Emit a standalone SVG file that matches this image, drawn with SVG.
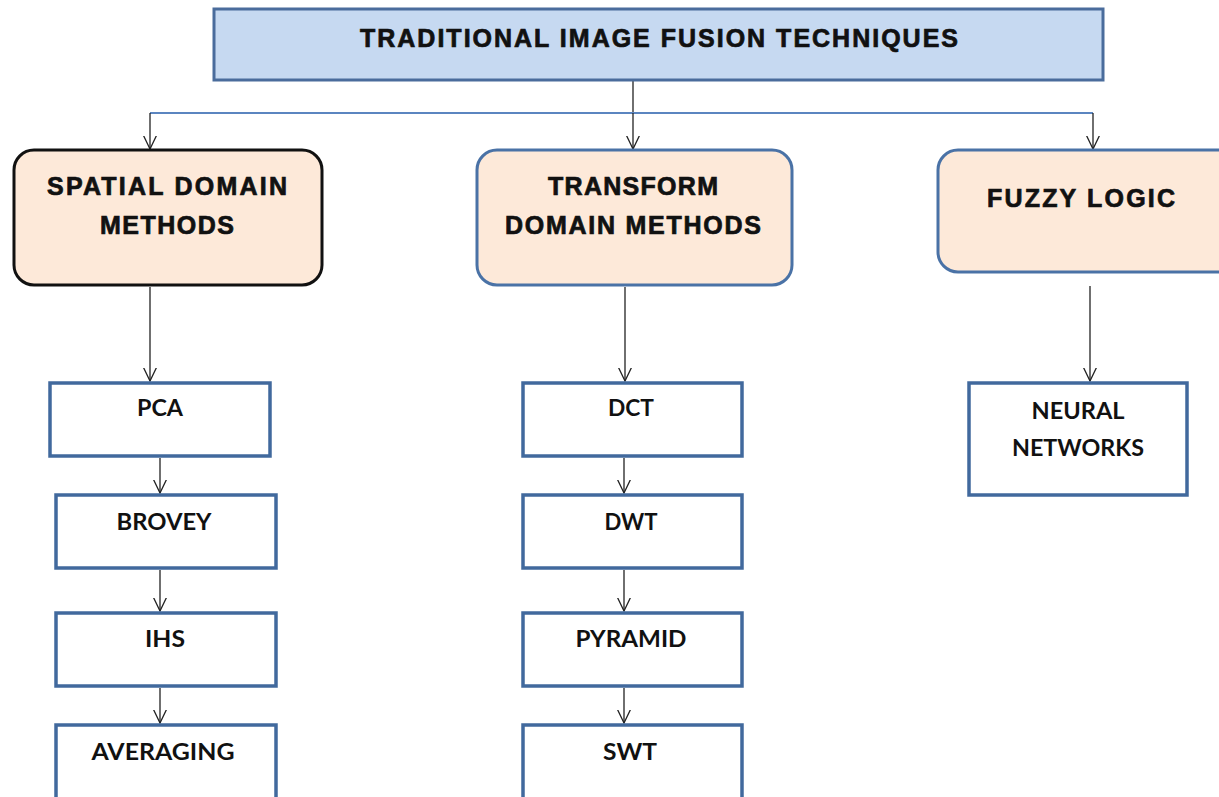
<svg xmlns="http://www.w3.org/2000/svg" width="1219" height="797" viewBox="0 0 1219 797">
<defs>
<style>
.title{fill:#c6d9f1;stroke:#4a6c9c;stroke-width:3}
.main{fill:#fde9d9;stroke:#4a72a6;stroke-width:3}
.mainb{fill:#fde9d9;stroke:#111;stroke-width:3}
.box{fill:#fff;stroke:#41699d;stroke-width:3.5}
.h{font-family:"Liberation Sans",Arial,sans-serif;font-weight:bold;fill:#111;stroke:#111;stroke-width:0.7;text-anchor:middle}
.s{font-family:Lato,"Open Sans",sans-serif;font-weight:bold;fill:#111;text-anchor:middle;font-size:22px}
.c{stroke:#222;stroke-width:1.3;fill:none}
.cb{stroke:#5b85c0;stroke-width:2;fill:none}
</style>
<marker id="ah" viewBox="0 0 14 14" refX="13.5" refY="7" markerWidth="14" markerHeight="14" markerUnits="userSpaceOnUse" orient="auto">
<path d="M0,0.5 L13.5,7 L0,13.5" fill="none" stroke="#222" stroke-width="1.3"/>
</marker>
</defs>
<rect width="1219" height="797" fill="#fff"/>

<g id="connectors">
<line class="c" x1="633" y1="80" x2="633" y2="113"/>
<line class="cb" x1="150" y1="113" x2="1093" y2="113"/>
<line class="c" x1="150" y1="113" x2="150" y2="149" marker-end="url(#ah)"/>
<line class="c" x1="633" y1="113" x2="633" y2="149" marker-end="url(#ah)"/>
<line class="c" x1="1093" y1="113" x2="1093" y2="149" marker-end="url(#ah)"/>
<line class="c" x1="150" y1="287" x2="150" y2="381" marker-end="url(#ah)"/>
<line class="c" x1="625" y1="287" x2="625" y2="381" marker-end="url(#ah)"/>
<line class="c" x1="1090" y1="286" x2="1090" y2="381" marker-end="url(#ah)"/>
<line class="c" x1="160" y1="458" x2="160" y2="493" marker-end="url(#ah)"/>
<line class="c" x1="160" y1="570" x2="160" y2="611" marker-end="url(#ah)"/>
<line class="c" x1="160" y1="688" x2="160" y2="723" marker-end="url(#ah)"/>
<line class="c" x1="624" y1="458" x2="624" y2="493" marker-end="url(#ah)"/>
<line class="c" x1="624" y1="570" x2="624" y2="611" marker-end="url(#ah)"/>
<line class="c" x1="624" y1="688" x2="624" y2="723" marker-end="url(#ah)"/>
</g>

<g id="title">
<rect class="title" x="214" y="9" width="889" height="71"/>
<text class="h" x="659" y="47" font-size="25" textLength="598" lengthAdjust="spacing">TRADITIONAL  IMAGE  FUSION  TECHNIQUES</text>
</g>

<g id="spatial">
<rect class="mainb" x="14" y="150" width="308" height="135" rx="20"/>
<text class="h" x="167" y="195" font-size="25" textLength="240" lengthAdjust="spacing">SPATIAL  DOMAIN</text>
<text class="h" x="167" y="234" font-size="25" textLength="134" lengthAdjust="spacing">METHODS</text>
</g>

<g id="transform">
<rect class="main" x="477" y="150" width="315" height="135" rx="20"/>
<text class="h" x="633" y="195" font-size="25" textLength="170" lengthAdjust="spacing">TRANSFORM</text>
<text class="h" x="633" y="234" font-size="25" textLength="256" lengthAdjust="spacing">DOMAIN  METHODS</text>
</g>

<g id="fuzzy">
<rect class="main" x="938" y="150" width="300" height="122" rx="20"/>
<text class="h" x="1081" y="207" font-size="25" textLength="188" lengthAdjust="spacing">FUZZY  LOGIC</text>
</g>

<g id="pca">
<rect class="box" x="50" y="383" width="220" height="73"/>
<text class="s" x="160" y="416" textLength="46" lengthAdjust="spacingAndGlyphs">PCA</text>
</g>
<g id="brovey">
<rect class="box" x="56" y="495" width="220" height="73"/>
<text class="s" x="164" y="530" textLength="95" lengthAdjust="spacingAndGlyphs">BROVEY</text>
</g>
<g id="ihs">
<rect class="box" x="56" y="613" width="220" height="73"/>
<text class="s" x="165" y="647" textLength="40" lengthAdjust="spacingAndGlyphs">IHS</text>
</g>
<g id="averaging">
<rect class="box" x="56" y="725" width="220" height="80"/>
<text class="s" x="163" y="760" textLength="143" lengthAdjust="spacingAndGlyphs">AVERAGING</text>
</g>

<g id="dct">
<rect class="box" x="523" y="383" width="219" height="73"/>
<text class="s" x="631" y="416" textLength="46" lengthAdjust="spacingAndGlyphs">DCT</text>
</g>
<g id="dwt">
<rect class="box" x="523" y="495" width="219" height="73"/>
<text class="s" x="631" y="530" textLength="53" lengthAdjust="spacingAndGlyphs">DWT</text>
</g>
<g id="pyramid">
<rect class="box" x="523" y="613" width="219" height="73"/>
<text class="s" x="631" y="647" textLength="111" lengthAdjust="spacingAndGlyphs">PYRAMID</text>
</g>
<g id="swt">
<rect class="box" x="523" y="725" width="219" height="80"/>
<text class="s" x="630" y="760" textLength="54" lengthAdjust="spacingAndGlyphs">SWT</text>
</g>

<g id="neural">
<rect class="box" x="969" y="383" width="218" height="112"/>
<text class="s" x="1078" y="419" textLength="93" lengthAdjust="spacingAndGlyphs">NEURAL</text>
<text class="s" x="1078" y="456" textLength="132" lengthAdjust="spacingAndGlyphs">NETWORKS</text>
</g>
</svg>
